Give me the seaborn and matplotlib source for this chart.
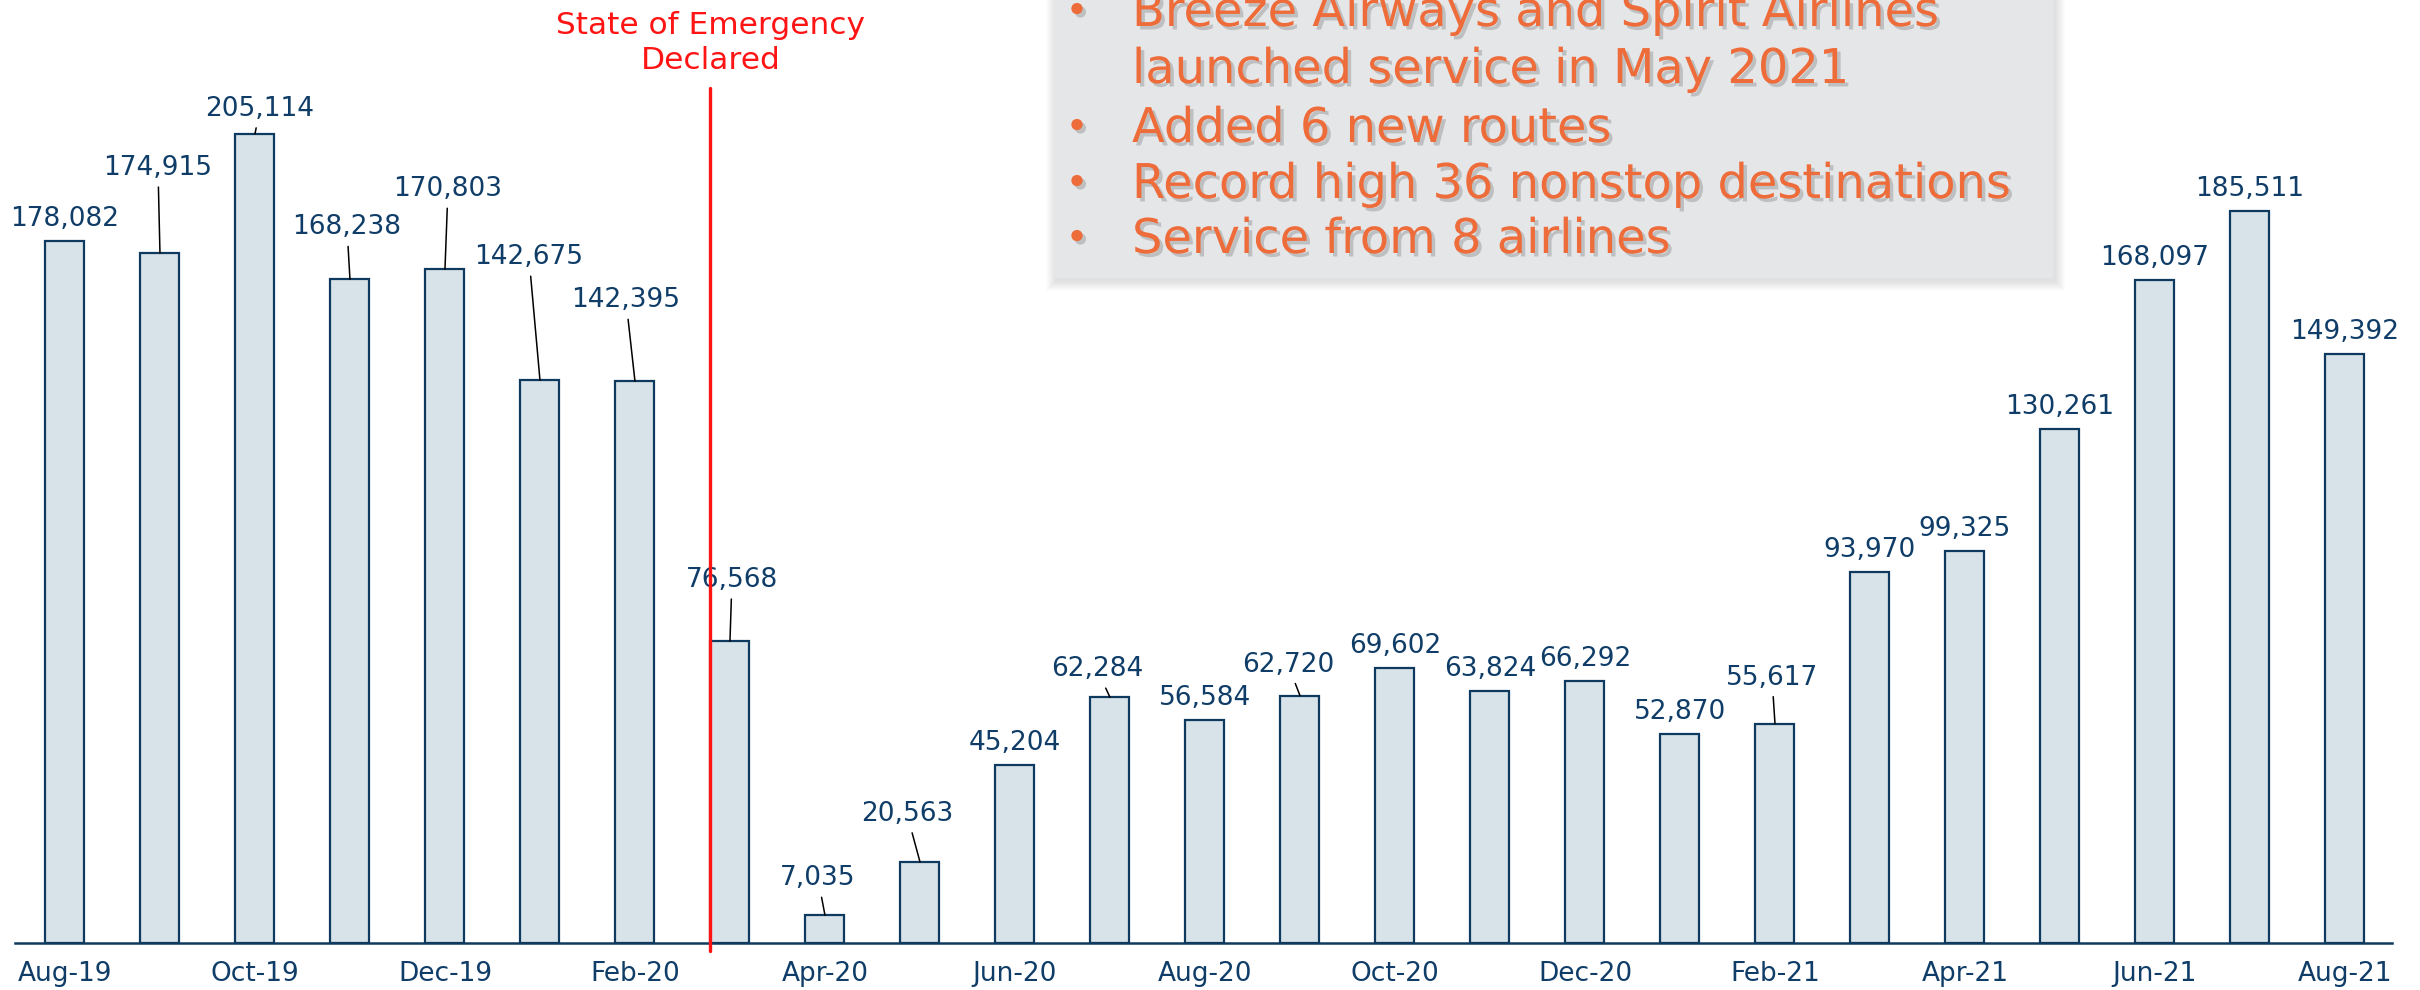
import matplotlib
matplotlib.use('Agg')
import matplotlib.pyplot as plt
import matplotlib.patheffects as pe
from matplotlib.patches import Rectangle
import seaborn as sns
import pandas as pd

# ---------------- data ----------------
months = ['Aug-19', 'Sep-19', 'Oct-19', 'Nov-19', 'Dec-19', 'Jan-20', 'Feb-20',
          'Mar-20', 'Apr-20', 'May-20', 'Jun-20', 'Jul-20', 'Aug-20', 'Sep-20',
          'Oct-20', 'Nov-20', 'Dec-20', 'Jan-21', 'Feb-21', 'Mar-21', 'Apr-21',
          'May-21', 'Jun-21', 'Jul-21', 'Aug-21']
passengers = [178082, 174915, 205114, 168238, 170803, 142675, 142395,
              76568, 7035, 20563, 45204, 62284, 56584, 62720,
              69602, 63824, 66292, 52870, 55617, 93970, 99325,
              130261, 168097, 185511, 149392]
tick_labels = months[::2]
event_month = 'Mar-20'
event_label = 'State of Emergency\nDeclared'
bullet_lines = ['Breeze Airways and Spirit Airlines',
                'launched service in May 2021',
                'Added 6 new routes',
                'Record high 36 nonstop destinations',
                'Service from 8 airlines']
bullet_marks = [True, False, True, True, True]

# ---------------- layout / style ----------------
W, H = 2420, 990
NAVY = '#0d3a5e'
LABEL = '#0f3d68'
FILL = '#d8e2e9'
ORANGE = '#ee6b3a'
RED = '#ff1414'

# label offsets in pixels (dx, dy to text centre) for labels with leader lines
leader_offsets = {1: (-2, 88), 2: (5, 28), 3: (-3, 55), 4: (3, 83), 5: (-11, 126),
                  6: (-9, 84), 7: (2, 64), 8: (-7, 40), 9: (-13, 51),
                  11: (-13, 31), 13: (-12, 34), 18: (-3, 49)}
default_offset = (0, 25)

sns.set_style('white')
plt.rcParams['font.family'] = ['DejaVu Sans']

fig = plt.figure(figsize=(W / 100, H / 100), dpi=100)
fig.patch.set_facecolor('white')
ax = fig.add_axes([15 / W, 47 / H, (2392 - 15) / W, 943 / H])
ax.set_facecolor('none')

df = pd.DataFrame({'month': months, 'passengers': passengers})
sns.barplot(data=df, x='month', y='passengers', color=FILL, saturation=1,
            edgecolor=NAVY, linewidth=1.6, width=0.41, ax=ax)

ax.set_xlim(-0.526, 24.495)
ax.set_ylim(0, 239050)
ax.set_xlabel('')
ax.set_ylabel('')
ax.set_yticks([])
ax.set_xticks(range(0, len(months), 2))
ax.set_xticklabels(tick_labels, fontsize=19, color=LABEL)
ax.tick_params(axis='x', length=0, pad=13)
for s in ['left', 'right', 'top']:
    ax.spines[s].set_visible(False)
ax.spines['bottom'].set_color(NAVY)
ax.spines['bottom'].set_linewidth(1.8)

# value labels
for i, v in enumerate(passengers):
    dx, dy = leader_offsets.get(i, default_offset)
    kw = {}
    if i in leader_offsets:
        kw['arrowprops'] = dict(arrowstyle='-', color='black', lw=1.1,
                                shrinkA=2, shrinkB=0)
    ax.annotate(f'{v:,}', xy=(i, v), xytext=(dx, dy - 10),
                textcoords='offset pixels', ha='center', va='baseline',
                fontsize=19, color=LABEL, **kw)

# event line
idx = months.index(event_month)
bar = ax.patches[idx]
xline = bar.get_x()
ax.axvline(xline, ymin=-8 / 943, ymax=(943 - 88) / 943, color=RED, lw=2.4,
           clip_on=False, zorder=5)
ax.text(xline, 1 - 43 / 943, event_label, transform=ax.get_xaxis_transform(),
        ha='center', va='center', multialignment='center', fontsize=22.5,
        color=RED, linespacing=1.22)

# text box with soft shadow
bx0, bx1, by1 = 1054, 2053, 278
for k in range(1, 11):
    fig.patches.append(Rectangle(((bx0 - k + 2) / W, 1 - (by1 + k + 3) / H),
                                 (bx1 - bx0 + 2 * k) / W, (by1 + 40) / H,
                                 transform=fig.transFigure, facecolor='black',
                                 edgecolor='none', alpha=0.012, zorder=2))
fig.patches.append(Rectangle((bx0 / W, 1 - by1 / H), (bx1 - bx0) / W, (by1 + 40) / H,
                             transform=fig.transFigure, facecolor='#e4e6e8',
                             edgecolor='none', zorder=3))

shadow = [pe.withSimplePatchShadow(offset=(2.5, -2.5), shadow_rgbFace='#858585',
                                   alpha=0.4)]
baselines = [26, 83, 142, 198, 253]
for line, mark, yb in zip(bullet_lines, bullet_marks, baselines):
    fig.text(1132 / W, 1 - yb / H, line, ha='left', va='baseline', fontsize=34.5,
             color=ORANGE, zorder=4, path_effects=shadow)
    if mark:
        fig.text(1077 / W, 1 - (yb - 14) / H, '•', ha='center', va='center',
                 fontsize=28, color=ORANGE, zorder=4, path_effects=shadow)

fig.savefig('out.png', dpi=100, facecolor=fig.get_facecolor())
